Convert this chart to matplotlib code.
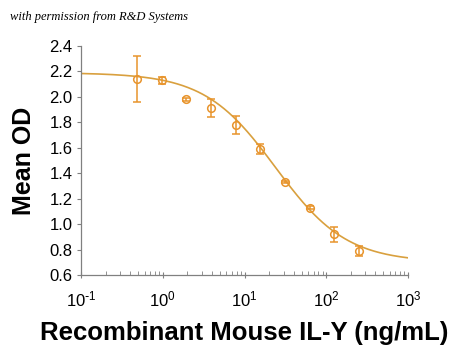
import numpy as np
import matplotlib
matplotlib.use('Agg')
import matplotlib.pyplot as plt

plt.rcParams['font.family'] = ['Liberation Sans', 'DejaVu Sans']
plt.rcParams['axes.unicode_minus'] = False

# dose (ng/mL) and mean OD
dose = [0.49, 0.98, 1.95, 3.9, 7.8, 15.6, 31.25, 62.5, 125, 250]
mean_od = [2.14, 2.13, 1.98, 1.91, 1.78, 1.59, 1.33, 1.13, 0.92, 0.79]
od_err = [0.18, 0.03, 0.01, 0.07, 0.07, 0.04, 0.01, 0.01, 0.06, 0.04]

# 4PL fit parameters (top, bottom, EC50, hill)
top, bottom, ec50, hill = 2.19, 0.70, 24.0, 1.0

yticks = [0.6, 0.8, 1.0, 1.2, 1.4, 1.6, 1.8, 2.0, 2.2, 2.4]
xticks = [0.1, 1, 10, 100, 1000]
xticklabels = ['$\\mathregular{10^{\\text{-}1}}$', '$\\mathregular{10^{0}}$', '$\\mathregular{10^{1}}$',
               '$\\mathregular{10^{2}}$', '$\\mathregular{10^{3}}$']

fig = plt.figure(figsize=(4.5, 3.49), dpi=100)
ax = fig.add_axes([81/450, 1-275/349, (408-81)/450, (275-46)/349])

xf = np.logspace(-1, 3, 300)
yf = bottom + (top - bottom) / (1 + (xf / ec50) ** hill)
ax.plot(xf, yf, color='#D9A03E', lw=1.2, zorder=2)
ax.errorbar(dose, mean_od, yerr=od_err, fmt='o', mfc='none', mec='#E8942C',
            ecolor='#E8942C', ms=5.5, mew=1.1, elinewidth=1.1, capsize=3, capthick=1.1, zorder=3)

ax.set_xscale('log')
ax.set_xlim(0.1, 1000)
ax.set_ylim(0.6, 2.4)
ax.set_yticks(yticks)
ax.set_yticklabels([f'{v:.1f}' for v in yticks])
ax.set_xticks(xticks)
ax.set_xticklabels(xticklabels)

for s in ['top', 'right']:
    ax.spines[s].set_visible(False)
for s in ['left', 'bottom']:
    ax.spines[s].set_color('#808080')
    ax.spines[s].set_linewidth(0.9)
ax.tick_params(axis='y', which='major', direction='out', length=3, color='#808080', labelsize=12, pad=3)
ax.tick_params(axis='x', which='major', direction='inout', length=5, color='#808080', labelsize=12, pad=8)
ax.tick_params(axis='x', which='minor', direction='in', length=3, color='#808080')

ax.set_ylabel('Mean OD', fontsize=18, fontweight='bold', labelpad=10)
ax.set_xlabel('Recombinant Mouse IL-Y (ng/mL)', fontsize=18.5, fontweight='bold', labelpad=8)

fig.text(10/450, 1-17/349, 'with permission from R&D Systems', fontsize=9,
         style='italic', family='Liberation Serif', va='center', ha='left')

fig.savefig('out.png', dpi=100)
